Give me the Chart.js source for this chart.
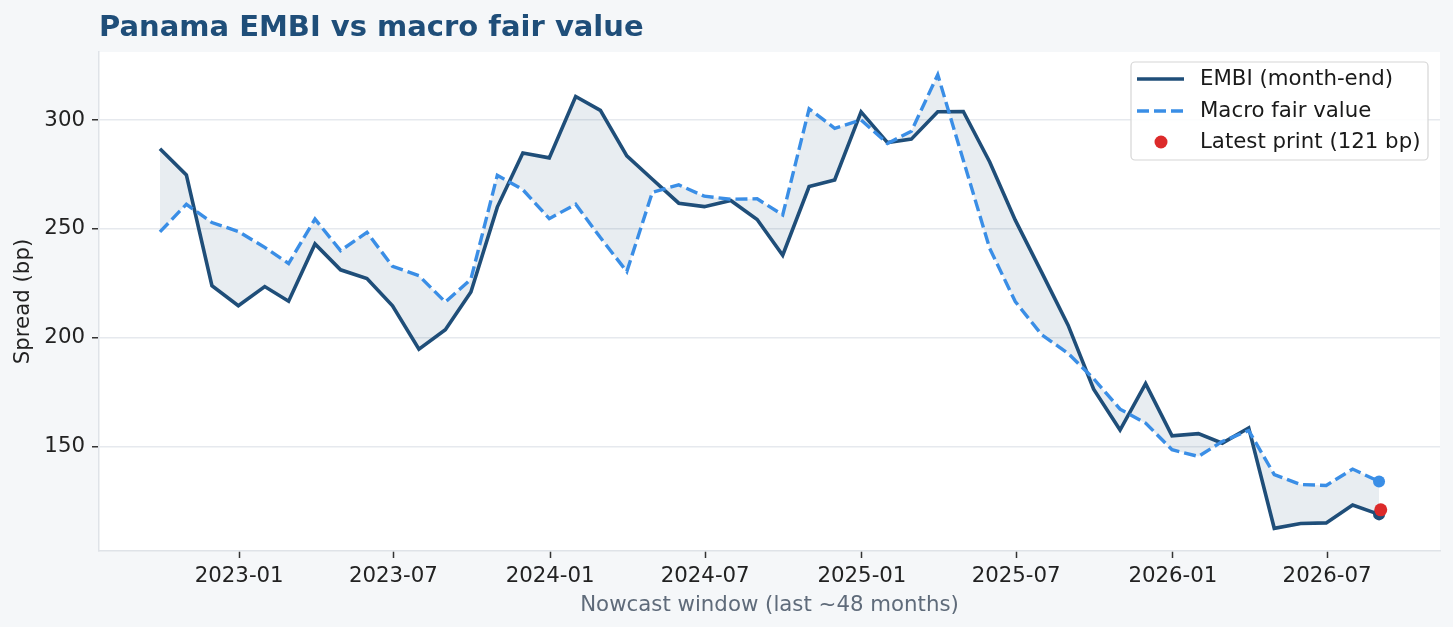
<!DOCTYPE html>
<html>
<head>
<meta charset="utf-8">
<title>Panama EMBI vs macro fair value</title>
<script src="https://cdn.jsdelivr.net/npm/chart.js@4.4.1/dist/chart.umd.min.js"></script>
<style>
  html, body { margin: 0; padding: 0; background: #f5f7f9; }
  #wrap { width: 1453px; height: 627px; position: relative; }
</style>
</head>
<body>
<div id="wrap"><canvas id="myChart"></canvas></div>
<script>
const months = [
  '2022-09', '2022-10', '2022-11', '2022-12',
  '2023-01', '2023-02', '2023-03', '2023-04', '2023-05', '2023-06',
  '2023-07', '2023-08', '2023-09', '2023-10', '2023-11', '2023-12',
  '2024-01', '2024-02', '2024-03', '2024-04', '2024-05', '2024-06',
  '2024-07', '2024-08', '2024-09', '2024-10', '2024-11', '2024-12',
  '2025-01', '2025-02', '2025-03', '2025-04', '2025-05', '2025-06',
  '2025-07', '2025-08', '2025-09', '2025-10', '2025-11', '2025-12',
  '2026-01', '2026-02', '2026-03', '2026-04', '2026-05', '2026-06',
  '2026-07', '2026-08'
];

const embi = [
  286.8, 274.8, 223.9, 214.7,
  223.5, 216.8, 243.1, 231.2, 227.2, 214.7,
  194.8, 203.7, 221.0, 260.0, 284.8, 282.6,
  310.8, 304.4, 283.5, 272.8, 261.8, 260.2,
  263.0, 254.3, 237.9, 269.4, 272.5, 303.7,
  289.6, 291.2, 303.8, 303.9, 280.7, 254.0,
  230.0, 205.8, 176.4, 157.6, 178.9, 155.0,
  156.0, 151.6, 158.6, 112.5, 114.7, 115.0,
  123.2, 118.9
];

const fairValue = [
  248.6, 261.3, 252.9, 248.8,
  241.5, 234.1, 254.5, 240.0, 248.4, 232.8,
  228.5, 216.4, 226.9, 274.6, 268.0, 254.7,
  261.3, 246.0, 230.4, 266.8, 270.2, 265.0,
  263.6, 263.8, 256.4, 305.1, 296.2, 300.0,
  289.2, 294.8, 320.8, 281.5, 241.0, 216.6,
  201.4, 192.8, 181.2, 167.2, 160.8, 148.6,
  145.5, 152.4, 157.4, 137.2, 132.6, 132.2,
  139.7, 134.0
];

const latestPrint = 121;
const latestPrintDate = '2026-09-02';

const xTickMonths = ['2023-01', '2023-07', '2024-01', '2024-07', '2025-01', '2025-07', '2026-01', '2026-07'];
const yTickValues = [150, 200, 250, 300];

const colors = {
  embi: '#1f4e79',
  fair: '#3a8ee6',
  latest: '#dc2a2a',
  gap: 'rgba(31,78,121,0.1)'
};

const FONT = "'DejaVu Sans', sans-serif";
const TXT = 21.3;

// month-end timestamp for a 'YYYY-MM' label
const monthEnd = ym => {
  const [y, m] = ym.split('-').map(Number);
  return Date.UTC(y, m, 0);
};
const monthStart = ym => {
  const [y, m] = ym.split('-').map(Number);
  return Date.UTC(y, m - 1, 1);
};
const fmtMonth = v => {
  const d = new Date(v);
  return d.getUTCFullYear() + '-' + String(d.getUTCMonth() + 1).padStart(2, '0');
};

const xs = months.map(monthEnd);
const xPad = (xs[xs.length - 1] - xs[0]) * 0.05;
const allY = embi.concat(fairValue, [latestPrint]);
const yMin = Math.min(...allY), yMax = Math.max(...allY);
const yPad = (yMax - yMin) * 0.05;
const last = months.length - 1;

const backdrop = {
  id: 'backdrop',
  beforeDraw(chart) {
    const {ctx, chartArea: a} = chart;
    ctx.save();
    ctx.fillStyle = '#f5f7f9';
    ctx.fillRect(0, 0, chart.width, chart.height);
    ctx.fillStyle = '#ffffff';
    ctx.fillRect(a.left, a.top, a.right - a.left, a.bottom - a.top);
    ctx.restore();
  }
};

const titleAndLegend = {
  id: 'titleAndLegend',
  afterDraw(chart) {
    const {ctx, chartArea: a} = chart;
    ctx.save();
    ctx.fillStyle = colors.embi;
    ctx.font = 'bold 29px ' + FONT;
    ctx.textBaseline = 'alphabetic';
    ctx.fillText('Panama EMBI vs macro fair value', a.left, 36);

    // legend box, upper right
    const bx = 1131, by = 62, bw = 297, bh = 98;
    ctx.beginPath();
    ctx.roundRect(bx, by, bw, bh, 4);
    ctx.fillStyle = 'rgba(255,255,255,0.85)';
    ctx.fill();
    ctx.strokeStyle = '#d6d6d6';
    ctx.lineWidth = 1.2;
    ctx.stroke();

    const rows = [79, 111, 142];
    ctx.lineWidth = 3.5;
    ctx.strokeStyle = colors.embi;
    ctx.beginPath(); ctx.moveTo(1137, rows[0]); ctx.lineTo(1184, rows[0]); ctx.stroke();
    ctx.strokeStyle = colors.fair;
    ctx.setLineDash([12, 5]);
    ctx.beginPath(); ctx.moveTo(1137, rows[1]); ctx.lineTo(1184, rows[1]); ctx.stroke();
    ctx.setLineDash([]);
    ctx.fillStyle = colors.latest;
    ctx.beginPath(); ctx.arc(1161, rows[2], 6.5, 0, Math.PI * 2); ctx.fill();

    ctx.fillStyle = '#1a1a1a';
    ctx.font = TXT + 'px ' + FONT;
    ctx.textBaseline = 'middle';
    ctx.fillText('EMBI (month-end)', 1200, rows[0]);
    ctx.fillText('Macro fair value', 1200, rows[1]);
    ctx.fillText('Latest print (' + latestPrint + ' bp)', 1200, rows[2]);
    ctx.restore();
  }
};

const endDot = ctx => ctx.dataIndex === last ? 6 : 0;

new Chart(document.getElementById('myChart').getContext('2d'), {
  type: 'line',
  data: {
    datasets: [
      {
        label: 'EMBI (month-end)',
        data: months.map((m, i) => ({x: xs[i], y: embi[i]})),
        borderColor: colors.embi,
        backgroundColor: colors.embi,
        borderWidth: 3.6,
        pointRadius: endDot,
        pointBorderWidth: 0,
        fill: {target: 1, above: colors.gap, below: colors.gap},
        order: 2
      },
      {
        label: 'Macro fair value',
        data: months.map((m, i) => ({x: xs[i], y: fairValue[i]})),
        borderColor: colors.fair,
        backgroundColor: colors.fair,
        borderWidth: 3.4,
        borderDash: [12, 5],
        pointRadius: endDot,
        pointBorderWidth: 0,
        fill: false,
        order: 1
      },
      {
        label: 'Latest print',
        data: [{x: Date.parse(latestPrintDate), y: latestPrint}],
        showLine: false,
        backgroundColor: colors.latest,
        borderColor: colors.latest,
        pointRadius: 6.5,
        pointBorderWidth: 0,
        fill: false,
        order: 0
      }
    ]
  },
  options: {
    responsive: true,
    maintainAspectRatio: false,
    animation: false,
    devicePixelRatio: 1,
    layout: {padding: {top: 52, right: 13, left: 0, bottom: 0}},
    plugins: {
      legend: {display: false},
      tooltip: {enabled: false},
      title: {display: false}
    },
    scales: {
      x: {
        type: 'linear',
        min: xs[0] - xPad,
        max: xs[last] + xPad,
        afterBuildTicks: axis => { axis.ticks = xTickMonths.map(m => ({value: monthStart(m)})); },
        afterFit: s => { s.height = 76; },
        ticks: {
          callback: v => fmtMonth(v),
          maxRotation: 0,
          autoSkip: false,
          color: '#222',
          font: {family: FONT, size: TXT},
          padding: 6
        },
        grid: {drawOnChartArea: false, tickLength: 7, tickColor: '#333', tickWidth: 1.5},
        border: {color: '#dfe3e8', width: 1.5},
        title: {
          display: true,
          text: 'Nowcast window (last ~48 months)',
          color: '#5f6b7a',
          font: {family: FONT, size: TXT},
          padding: {top: 2, bottom: 9}
        }
      },
      y: {
        type: 'linear',
        min: yMin - yPad,
        max: yMax + yPad,
        afterBuildTicks: axis => { axis.ticks = yTickValues.map(v => ({value: v})); },
        afterFit: s => { s.width = 99; },
        ticks: {
          color: '#222',
          font: {family: FONT, size: TXT},
          padding: 7
        },
        grid: {color: '#e6e9ee', lineWidth: 1.5, tickColor: '#333', tickLength: 7, tickWidth: 1.5},
        border: {color: '#dfe3e8', width: 1.5},
        title: {
          display: true,
          text: 'Spread (bp)',
          color: '#222',
          font: {family: FONT, size: TXT},
          padding: {top: 11, bottom: 0}
        }
      }
    }
  },
  plugins: [backdrop, titleAndLegend]
});
</script>
</body>
</html>
